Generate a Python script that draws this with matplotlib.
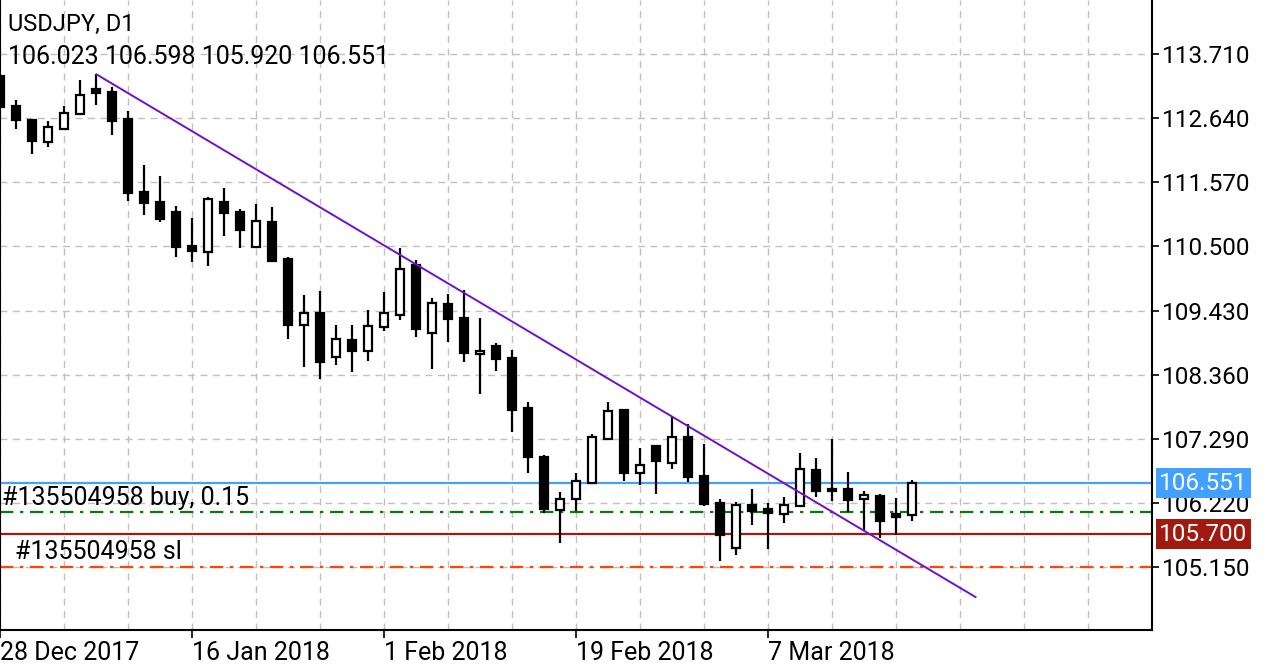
import matplotlib
matplotlib.use("Agg")
import matplotlib.pyplot as plt
from matplotlib.ticker import MultipleLocator, FixedLocator
import matplotlib.transforms as mtrans

plt.rcParams['font.family'] = ['Roboto', 'DejaVu Sans']

# daily bars, 28 Dec 2017 .. 20 Mar 2018 (index 0..57)
opens = [113.343, 112.842, 112.609, 112.242, 112.463, 112.709, 113.121, 113.076, 112.620, 111.407,
         111.240, 111.074, 110.506, 110.406, 111.240, 111.074, 110.495, 110.907, 110.284, 109.183,
         109.383, 108.659, 108.938, 108.749, 109.160, 109.350, 110.184, 109.050, 109.538, 109.305,
         108.704, 108.838, 108.637, 107.803, 106.980, 106.101, 106.290, 106.557, 107.291, 107.770,
         106.713, 107.169, 106.880, 107.314, 106.668, 106.213, 105.467, 106.180, 106.113, 106.034,
         106.168, 106.769, 106.447, 106.447, 106.280, 106.335, 106.034, 106.023]
highs = [113.376, 112.942, 112.620, 112.592, 112.842, 113.276, 113.376, 113.154, 112.764, 111.863,
         111.674, 111.174, 110.973, 111.329, 111.474, 111.119, 111.207, 111.152, 110.318, 109.684,
         109.750, 109.183, 109.183, 109.438, 109.739, 110.473, 110.273, 109.639, 109.705, 109.772,
         109.305, 108.893, 108.771, 107.903, 107.014, 106.401, 106.724, 107.369, 107.903, 107.770,
         107.136, 107.169, 107.670, 107.536, 107.202, 106.280, 106.235, 106.447, 106.213, 106.313,
         107.047, 106.969, 107.281, 106.735, 106.423, 106.368, 106.301, 106.598]
lows = [112.809, 112.463, 112.041, 112.163, 112.442, 112.700, 112.864, 112.353, 111.262, 111.029,
        110.907, 110.328, 110.239, 110.173, 110.673, 110.473, 110.490, 110.250, 108.960, 108.492,
        108.282, 108.516, 108.404, 108.592, 109.093, 109.271, 108.993, 108.459, 108.904, 108.571,
        108.037, 108.425, 107.403, 106.724, 106.046, 105.556, 106.089, 106.550, 107.281, 106.590,
        106.513, 106.368, 106.790, 106.568, 106.168, 105.255, 105.355, 105.856, 105.455, 105.889,
        106.160, 106.323, 106.256, 106.068, 105.767, 105.634, 105.689, 105.920]
closes = [112.826, 112.609, 112.253, 112.487, 112.720, 113.021, 113.054, 112.597, 111.386, 111.229,
          110.962, 110.484, 110.428, 111.285, 111.062, 110.773, 110.918, 110.251, 109.183, 109.383,
          108.571, 108.949, 108.749, 109.171, 109.383, 110.127, 109.116, 109.550, 109.293, 108.716,
          108.759, 108.626, 107.770, 106.991, 106.113, 106.290, 106.580, 107.314, 107.758, 106.724,
          106.857, 106.924, 107.314, 106.657, 106.201, 105.689, 106.180, 106.089, 106.046, 106.190,
          106.790, 106.413, 106.413, 106.268, 106.346, 105.923, 105.979, 106.551]

price_ticks = [113.710, 112.640, 111.570, 110.500, 109.430, 108.360, 107.290, 106.220, 105.150]
date_idx = [0, 12, 24, 36, 48]
date_labels = ["28 Dec 2017", "16 Jan 2018", "1 Feb 2018", "19 Feb 2018", "7 Mar 2018"]

trend_x = [6, 60.94]
trend_y = [113.370, 104.649]

bid_price = 106.551
open_price = 106.06
level_price = 105.700
sl_price = 105.150

W, H = 1278, 666
fig = plt.figure(figsize=(W / 100, H / 100), dpi=100)
ax = fig.add_axes([0, 36 / H, 1152 / W, 630 / H])
ax.set_xlim(-0.03, 71.97)
ax.set_ylim(104.099, 114.611)

fs = 18

# grid
ax.xaxis.set_major_locator(FixedLocator(date_idx))
ax.xaxis.set_minor_locator(MultipleLocator(4))
ax.yaxis.set_major_locator(FixedLocator(price_ticks))
ax.grid(True, which='both', axis='x', color='#c0c0c0', linestyle=(0, (5, 4)), linewidth=1)
ax.grid(True, which='major', axis='y', color='#c0c0c0', linestyle=(0, (5, 4)), linewidth=1)
ax.set_axisbelow(True)

ax.set_xticklabels(date_labels, ha='left', fontsize=fs)
ax.yaxis.tick_right()
ax.set_yticklabels(["%.3f" % p for p in price_ticks], fontsize=17.5)
ax.tick_params(axis='x', which='major', direction='out', length=6, width=1.2, pad=2)
ax.tick_params(axis='x', which='minor', length=0)
ax.tick_params(axis='y', direction='out', length=5, width=1.2, pad=2)
for s in ['left', 'right', 'bottom']:
    ax.spines[s].set_linewidth(1.5)
ax.spines['top'].set_visible(False)

# order lines
ax.axhline(bid_price, color='#42a0ff', lw=1.6, zorder=1.5)
ax.axhline(open_price, color='#008000', lw=1.6, linestyle=(0, (6, 3, 1.5, 3)), zorder=1.5)
ax.axhline(level_price, color='#a01a10', lw=1.6, zorder=1.5)
ax.axhline(sl_price, color='#ff4500', lw=1.6, linestyle=(0, (6, 3, 1.5, 3)), zorder=1.5)

# candles
xs = list(range(len(opens)))
ax.vlines(xs, lows, highs, color='black', lw=1.6, zorder=3)
for i in xs:
    o, c = opens[i], closes[i]
    bottom = min(o, c)
    height = max(abs(c - o), 0.02)
    if c >= o:
        ax.bar(i, height, bottom=bottom, width=0.5, facecolor='white', edgecolor='black', lw=1.6, zorder=4)
    else:
        ax.bar(i, height, bottom=bottom, width=0.5, facecolor='black', edgecolor='black', lw=1.6, zorder=4)

# trendline
ax.plot(trend_x, trend_y, color='#7010c8', lw=1.4, zorder=5)

# labels on chart
ax.annotate("#135504958 buy, 0.15", xy=(0, open_price), xycoords=('axes fraction', 'data'),
            xytext=(1.5, 5.5), textcoords='offset points', fontsize=fs, va='baseline', ha='left')
ax.annotate("#135504958 sl", xy=(0, sl_price), xycoords=('axes fraction', 'data'),
            xytext=(11, 6), textcoords='offset points', fontsize=fs, va='baseline', ha='left')

trans = mtrans.blended_transform_factory(ax.transAxes, ax.transData)
for p, col in [(bid_price, '#42a0ff'), (level_price, '#a01a10')]:
    ax.text(1.0 + 7 / 1152, p, "%.3f" % p, transform=trans, color='white', fontsize=17.5,
            va='center', ha='left', clip_on=False, zorder=10,
            bbox=dict(boxstyle='square,pad=0.14', facecolor=col, edgecolor='none'))

fig.text(8 / W, 1 - 31 / H, "USDJPY, D1", fontsize=17, va='baseline', ha='left')
fig.text(8 / W, 1 - 64 / H, "%.3f %.3f %.3f %.3f" % (opens[-1], highs[-1], lows[-1], closes[-1]),
         fontsize=fs, va='baseline', ha='left')

fig.savefig("out.png", dpi=100, facecolor='white')
